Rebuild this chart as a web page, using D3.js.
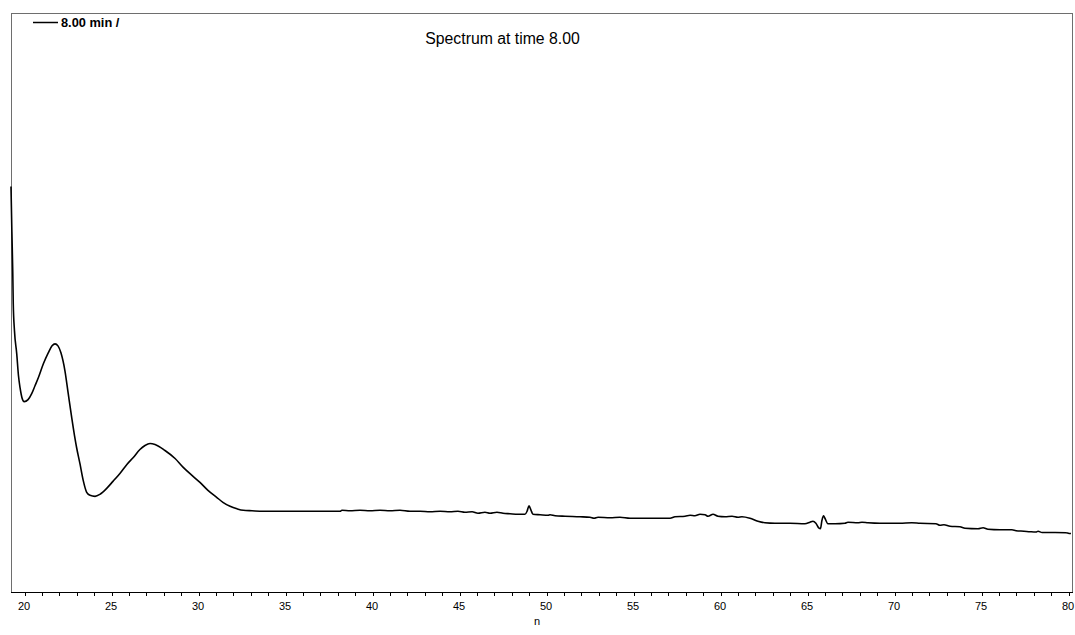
<!DOCTYPE html>
<html>
<head>
<meta charset="utf-8">
<script src="https://cdn.jsdelivr.net/npm/d3@7"></script>
<style>
  html, body { margin: 0; padding: 0; background: #fff; }
  svg { display: block; }
  text { font-family: "Liberation Sans", Arial, sans-serif; fill: #000; }
</style>
</head>
<body>
<svg id="chart" width="1075" height="635"></svg>
<script>
// ---- data ----
const title = "Spectrum at time 8.00";
const legendLabel = "8.00 min /";
const xLabel = "n";
const xTickLabels = [20, 25, 30, 35, 40, 45, 50, 55, 60, 65, 70, 75, 80];
const xMinorTicks = d3.range(20, 81, 1);

const nValues = [
  19.22, 19.27, 19.32, 19.35, 19.42, 19.55, 19.65, 19.74, 19.85, 19.98,
  20.20, 20.41, 20.60, 20.79, 21.08, 21.36, 21.58, 21.75, 21.92, 22.09,
  22.32, 22.51, 22.71, 22.87, 22.99, 23.18, 23.37, 23.57, 23.76, 24.05,
  24.33, 24.72, 25.08, 25.48, 25.88, 26.25, 26.63, 26.92, 27.21, 27.50,
  28.07, 28.65, 29.12, 29.62, 30.08, 30.54, 31.04, 31.40, 31.81, 32.21,
  32.57, 33.07, 33.70, 35.83, 38.13, 38.24, 38.70, 39.28, 39.85, 40.43,
  41.00, 41.58, 42.15, 42.73, 43.30, 43.88, 44.45, 44.91, 45.31, 45.72,
  46.06, 46.46, 46.75, 47.15, 47.50, 47.90, 48.36, 48.76, 48.88, 48.99,
  49.11, 49.22, 49.63, 50.09, 50.20, 50.49, 51.06, 51.92, 52.50, 52.73,
  52.96, 53.65, 54.22, 54.80, 55.95, 57.10, 57.38, 57.96, 58.25, 58.53,
  58.82, 59.11, 59.28, 59.57, 59.85, 60.26, 60.66, 61.00, 61.23, 61.69,
  62.15, 62.55, 63.13, 63.99, 64.85, 65.14, 65.31, 65.48, 65.66, 65.74,
  65.83, 65.92, 66.00, 66.17, 66.58, 67.15, 67.32, 67.90, 68.13, 68.47,
  69.16, 70.31, 70.99, 71.46, 72.38, 72.61, 72.84, 73.19, 73.76, 74.05,
  74.80, 75.09, 75.37, 76.06, 76.75, 76.98, 77.44, 77.79, 78.13, 78.25,
  78.48, 79.23, 79.86, 80.03, 80.14
];
const signal = [
  407, 362, 322, 289, 262, 239, 217, 205, 195, 191,
  193, 199, 207, 215, 229, 240, 247, 249, 247, 240,
  222, 199, 175, 157, 145, 129, 112, 100, 97, 96,
  98, 104, 111, 119, 128, 135, 143, 147, 149, 148,
  142, 134, 125, 117, 110, 102, 95, 90, 86, 83.5,
  82, 81.5, 81, 81, 81, 82, 81.5, 82, 81.5, 82,
  81.5, 82, 81, 81, 80.5, 81, 80.5, 81, 80, 80.5,
  79, 80, 79, 80, 79, 78.5, 78, 78, 81, 86.5,
  82, 78, 77.5, 77, 77.5, 76.5, 76, 75.5, 75, 74,
  75, 74.5, 75, 74, 74, 74, 75.5, 76, 77, 76.5,
  78, 77.5, 76, 78, 76, 75.5, 76, 75, 75.5, 74,
  71, 69.5, 69, 69, 68.5, 70, 71, 69, 64, 63.5,
  72, 76.5, 74, 68.5, 68.5, 69, 70, 69.5, 70, 69.5,
  69, 69, 69.5, 69, 68.5, 67, 67.5, 66, 65.5, 64,
  63.5, 64.5, 63, 62.5, 62.5, 61.5, 61, 60.5, 60.2, 61,
  59.7, 59.7, 59.5, 58.7, 58.7
];
const xDomain = [19.22, 80.2];
const yDomain = [0, 580];

// ---- layout ----
const svg = d3.select("#chart");
const plotLeft = 11, plotRight = 1072, plotTop = 13, plotBottom = 592;

const x = d3.scaleLinear().domain(xDomain).range([plotLeft, plotRight]);
const y = d3.scaleLinear().domain(yDomain).range([plotBottom, plotTop + 1]);

// frame
svg.append("rect")
  .attr("x", plotLeft + 0.5).attr("y", plotTop + 0.5)
  .attr("width", plotRight - plotLeft).attr("height", plotBottom - plotTop)
  .attr("fill", "none").attr("stroke", "#6e6e6e").attr("stroke-width", 1);

// x axis line
svg.append("line")
  .attr("x1", plotLeft).attr("x2", plotRight + 1)
  .attr("y1", plotBottom + 0.5).attr("y2", plotBottom + 0.5)
  .attr("stroke", "#000").attr("stroke-width", 1);

// ticks
svg.append("g").selectAll("line").data(xMinorTicks).join("line")
  .attr("x1", d => Math.round(x(d)) + 0.5).attr("x2", d => Math.round(x(d)) + 0.5)
  .attr("y1", plotBottom).attr("y2", plotBottom + 4)
  .attr("stroke", "#000").attr("stroke-width", 1);

svg.append("g").selectAll("text").data(xTickLabels).join("text")
  .attr("x", d => x(d) - 0.5)
  .attr("y", 609.5)
  .attr("text-anchor", "middle")
  .attr("font-size", 11)
  .text(d => d);

svg.append("text")
  .attr("x", 537).attr("y", 625)
  .attr("text-anchor", "middle")
  .attr("font-size", 11)
  .text(xLabel);

// title
svg.append("text")
  .attr("x", 502.5).attr("y", 44)
  .attr("text-anchor", "middle")
  .attr("font-size", 15.8)
  .text(title);

// legend
svg.append("line")
  .attr("x1", 33).attr("x2", 58).attr("y1", 22.5).attr("y2", 22.5)
  .attr("stroke", "#000").attr("stroke-width", 1.5);
svg.append("text")
  .attr("x", 61).attr("y", 27)
  .attr("font-size", 12.8).attr("font-weight", "bold")
  .text(legendLabel);

// spectrum line
const pts = nValues.map((n, i) => [n, signal[i]]);
const line = d3.line()
  .x(d => x(d[0]))
  .y(d => y(d[1]))
  .curve(d3.curveMonotoneX);

svg.append("path")
  .datum(pts)
  .attr("d", line)
  .attr("fill", "none")
  .attr("stroke", "#000")
  .attr("stroke-width", 1.6)
  .attr("stroke-linejoin", "round");
</script>
</body>
</html>
